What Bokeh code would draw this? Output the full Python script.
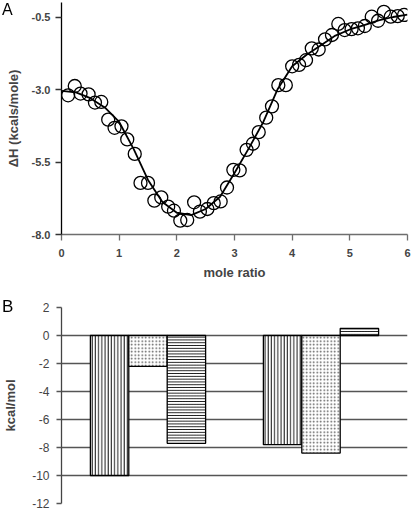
from bokeh.plotting import figure
from bokeh.layouts import column
from bokeh.models import ColumnDataSource, FixedTicker, FactorRange, Range1d
from bokeh.transform import dodge
from bokeh.embed import file_html
from bokeh.resources import INLINE

# ---- Panel A data: ITC titration ----
mole_ratio = [0.115, 0.23, 0.33, 0.47, 0.58, 0.69, 0.81, 0.92, 1.04, 1.14,
              1.27, 1.37, 1.50, 1.61, 1.73, 1.85, 1.95, 2.06, 2.18, 2.30,
              2.40, 2.53, 2.64, 2.76, 2.87, 2.98, 3.09, 3.21, 3.32, 3.42,
              3.55, 3.65, 3.76, 3.89, 4.00, 4.12, 4.24, 4.34, 4.46, 4.57,
              4.69, 4.80, 4.91, 5.03, 5.14, 5.26, 5.38, 5.49, 5.59, 5.71,
              5.83, 5.94]
delta_h = [-3.20, -2.88, -3.14, -3.17, -3.45, -3.43, -4.04, -4.32, -4.27, -4.72,
           -5.22, -6.22, -6.22, -6.83, -6.72, -7.04, -7.18, -7.52, -7.50, -6.89,
           -7.21, -7.12, -6.92, -6.86, -6.38, -5.77, -5.79, -5.08, -4.87, -4.47,
           -3.97, -3.58, -2.85, -2.85, -2.20, -2.15, -1.99, -1.58, -1.62, -1.27,
           -1.12, -0.74, -0.95, -0.92, -0.89, -0.81, -0.49, -0.63, -0.32, -0.49,
           -0.47, -0.43]
fit_ratio = [0.0, 0.25, 0.5, 0.75, 1.0, 1.25, 1.5, 1.75, 2.0, 2.25, 2.5, 2.75,
             3.0, 3.25, 3.5, 3.75, 4.0, 4.25, 4.5, 4.75, 5.0, 5.25, 5.5, 5.75, 6.0]
fit_dh = [-3.05, -3.10, -3.30, -3.62, -4.12, -5.05, -6.12, -6.88, -7.25, -7.33,
          -7.12, -6.70, -5.88, -5.02, -4.12, -2.98, -2.20, -1.80, -1.47, -1.14,
          -0.93, -0.78, -0.62, -0.50, -0.42]
a_yticks = [-8.0, -5.5, -3.0, -0.5]
a_ytick_labels = ["-8.0", "-5.5", "-3.0", "-0.5"]
a_xticks = [0, 1, 2, 3, 4, 5, 6]

# ---- Panel B data: thermodynamic parameters ----
groups = ["1", "2"]
dh_vals = [-10.0, -7.8]
tds_vals = [-2.2, -8.4]
dg_vals = [-7.7, 0.5]
b_yticks = [-12, -10, -8, -6, -4, -2, 0, 2]
b_ytick_labels = ["-12", "-10", "-8", "-6", "-4", "-2", "0", "2"]

panel_letters = ["A", "B"]

FONT = "Liberation Sans"

# ================= Panel A =================
pa = figure(width=420, height=290, x_range=Range1d(0, 6), y_range=Range1d(-8, 0),
            output_backend="svg", toolbar_location=None,
            min_border_left=60, min_border_right=13, min_border_top=2, min_border_bottom=56)
pa.outline_line_color = None
pa.grid.visible = False

pa.line(fit_ratio, fit_dh, line_color="black", line_width=1.8)
pa.scatter(mole_ratio, delta_h, size=13, marker="circle", fill_alpha=0,
           line_color="black", line_width=1.3)

xa = pa.xaxis[0]
xa.ticker = FixedTicker(ticks=a_xticks)
xa.axis_line_color = "#6e6e6e"
xa.major_tick_line_color = "#6e6e6e"
xa.axis_line_width = 1.5
xa.major_tick_line_width = 1.3
xa.major_tick_in = 0
xa.major_tick_out = 6
xa.minor_tick_line_color = None
xa.major_label_text_font = FONT
xa.major_label_text_font_style = "bold"
xa.major_label_text_font_size = "11px"
xa.major_label_standoff = 8
xa.axis_label = "mole ratio"
xa.axis_label_text_font = FONT
xa.axis_label_text_font_style = "bold"
xa.axis_label_text_font_size = "13px"
xa.axis_label_standoff = 5

ya = pa.yaxis[0]
ya.ticker = FixedTicker(ticks=a_yticks)
ya.major_label_overrides = {t: s for t, s in zip(a_yticks, a_ytick_labels)}
ya.axis_line_color = "black"
ya.axis_line_width = 1.3
ya.major_tick_line_color = "#333333"
ya.major_tick_line_width = 1.3
ya.major_tick_in = 0
ya.major_tick_out = 6
ya.minor_tick_line_color = None
ya.major_label_text_font = FONT
ya.major_label_text_font_style = "bold"
ya.major_label_text_font_size = "11px"
ya.major_label_standoff = 5
ya.axis_label = "ΔH (kcals/mole)"
ya.axis_label_text_font = FONT
ya.axis_label_text_font_style = "bold"
ya.axis_label_text_font_size = "13px"
ya.axis_label_standoff = 8

# ================= Panel B =================
pb = figure(width=420, height=220, x_range=FactorRange(factors=groups), y_range=Range1d(-12, 2),
            output_backend="svg", toolbar_location=None,
            min_border_left=60, min_border_right=2, min_border_top=17, min_border_bottom=7)
pb.outline_line_color = None
pb.xaxis.visible = False
pb.xgrid.visible = False
pb.ygrid.ticker = FixedTicker(ticks=b_yticks)
pb.ygrid.grid_line_color = "#555555"
pb.ygrid.grid_line_width = 1.4

src = ColumnDataSource(dict(group=groups, dh=dh_vals, tds=tds_vals, dg=dg_vals))
bw = 0.222
pb.vbar(x=dodge("group", -bw, range=pb.x_range), top="dh", bottom=0, width=bw, source=src,
        fill_color="white", line_color="black", line_width=1.3,
        hatch_pattern="vertical_line", hatch_scale=3.2, hatch_weight=0.9, hatch_color="black")
pb.vbar(x=dodge("group", 0, range=pb.x_range), top="tds", bottom=0, width=bw, source=src,
        fill_color="white", line_color="black", line_width=1.3,
        hatch_pattern="dot", hatch_scale=3.5, hatch_weight=1.0, hatch_color="#555555")
pb.vbar(x=dodge("group", bw, range=pb.x_range), top="dg", bottom=0, width=bw, source=src,
        fill_color="white", line_color="black", line_width=1.3,
        hatch_pattern="horizontal_line", hatch_scale=2.8, hatch_weight=0.9, hatch_color="black")

yb = pb.yaxis[0]
yb.ticker = FixedTicker(ticks=b_yticks)
yb.major_label_overrides = {t: s for t, s in zip(b_yticks, b_ytick_labels)}
yb.axis_line_color = "#444444"
yb.axis_line_width = 1.3
yb.major_tick_line_color = "#555555"
yb.major_tick_line_width = 1.3
yb.major_tick_in = 0
yb.major_tick_out = 5
yb.minor_tick_line_color = None
yb.major_label_text_font = FONT
yb.major_label_text_font_size = "12px"
yb.major_label_standoff = 7
yb.axis_label = "kcal/mol"
yb.axis_label_text_font = FONT
yb.axis_label_text_font_style = "bold"
yb.axis_label_text_font_size = "13px"
yb.axis_label_standoff = 11

layout = column(pa, pb, spacing=0)
html = file_html(layout, INLINE)

# panel letters sit outside the plot frames, so they are placed as page-level text
letters_html = (
    '<div style="position:fixed;left:2px;top:1px;z-index:1000;'
    'font-family:Liberation Sans, Arial, sans-serif;font-size:16px;line-height:normal;color:#000;">%s</div>\n'
    '<div style="position:fixed;left:2px;top:297px;z-index:1000;'
    'font-family:Liberation Sans, Arial, sans-serif;font-size:17px;line-height:normal;color:#000;">%s</div>\n'
) % tuple(panel_letters)
idx = html.rfind("</body>")
if idx >= 0:
    html = html[:idx] + letters_html + html[idx:]
else:
    html = html + letters_html
open("out.html", "w").write(html)
